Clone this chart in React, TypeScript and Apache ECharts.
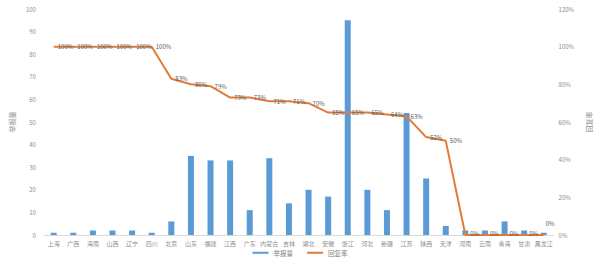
import React, { useEffect, useRef } from "react";
import * as echarts from "echarts";

const categories = ["上海","广西","海南","山西","辽宁","四川","北京","山东","福建","江西","广东","内蒙古","吉林","湖北","安徽","浙江","河北","新疆","江苏","陕西","天津","河南","云南","青海","甘肃","黑龙江"];
const reportCounts = [1,1,2,2,2,1,6,35,33,33,11,34,14,20,17,95,20,11,54,25,4,2,2,6,2,1];
const replyRates = [100,100,100,100,100,100,83,80,79,73,73,71,71,70,65,65,65,64,63,52,50,0,0,0,0,0];
const leftTicks = { min: 0, max: 100, interval: 10 };
const rightTicks = { min: 0, max: 120, interval: 20 };

export default function App() {
  const ref = useRef<HTMLDivElement>(null);
  useEffect(() => {
    const chart = echarts.init(ref.current!, null, { renderer: "svg" });
    const font = "'Noto Sans CJK SC', 'Noto Sans', sans-serif";
    const gray = "#8c8c8c";
    const lineData = replyRates.map((v, i) =>
      i === replyRates.length - 1
        ? { value: v, label: { position: [2, -14] } }
        : v === 0
        ? { value: v, label: { position: [5, -4] } }
        : { value: v }
    );
    chart.setOption({
      animation: false,
      textStyle: { fontFamily: font },
      grid: { left: 37, right: 35, top: 9, bottom: 29 },
      legend: {
        bottom: 3,
        left: "center",
        itemWidth: 16,
        itemHeight: 2,
        itemGap: 14,
        textStyle: { fontSize: 6.5, color: "#7f7f7f", fontFamily: font },
        data: [
          { name: "举报量", icon: "rect" },
          { name: "回复率", icon: "rect" },
        ],
      },
      xAxis: {
        type: "category",
        data: categories,
        axisLine: { lineStyle: { color: "#d9d9d9" } },
        axisTick: { show: false },
        axisLabel: { fontSize: 6, color: gray, margin: 5, interval: 0, fontFamily: font },
      },
      yAxis: [
        {
          type: "value",
          ...leftTicks,
          name: "举报量",
          nameLocation: "middle",
          nameRotate: 90,
          nameGap: 20,
          nameTextStyle: { fontSize: 7, color: gray, fontFamily: font },
          splitLine: { show: false },
          axisLine: { show: false },
          axisTick: { show: false },
          axisLabel: { fontSize: 6, color: gray, margin: 8 },
        },
        {
          type: "value",
          ...rightTicks,
          name: "回复率",
          nameLocation: "middle",
          nameRotate: 90,
          nameGap: 24,
          nameTextStyle: { fontSize: 7, color: gray, fontFamily: font },
          splitLine: { show: false },
          axisLine: { show: false },
          axisTick: { show: false },
          axisLabel: { fontSize: 6, color: gray, margin: 5, formatter: "{value}%" },
        },
      ],
      series: [
        {
          name: "举报量",
          type: "bar",
          data: reportCounts,
          barWidth: 6,
          itemStyle: { color: "#5b9bd5" },
        },
        {
          name: "回复率",
          type: "line",
          yAxisIndex: 1,
          data: lineData,
          symbol: "circle",
          symbolSize: 0.1,
          showSymbol: true,
          lineStyle: { color: "#e07b39", width: 2 },
          itemStyle: { color: "#e07b39" },
          label: {
            show: true,
            position: "right",
            distance: 4,
            formatter: "{c}%",
            fontSize: 6,
            color: "#595959",
          },
        },
      ],
    });
    return () => chart.dispose();
  }, []);
  return (
    <div
      ref={ref}
      style={{ position: "absolute", left: 0, top: 0, width: 600, height: 264 }}
    />
  );
}
